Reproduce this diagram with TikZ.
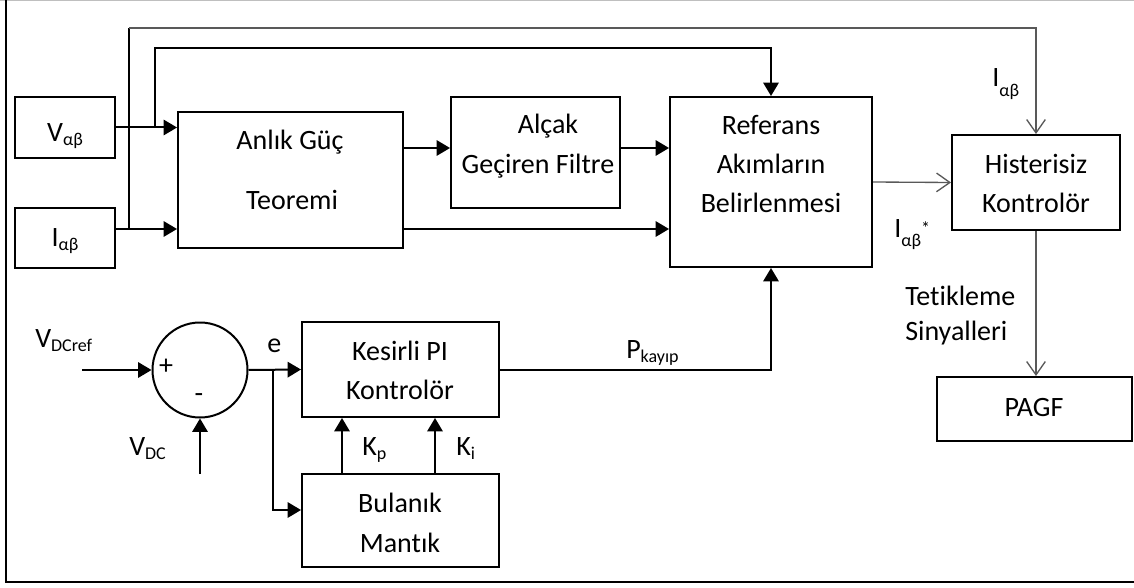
\documentclass[tikz,border=0pt]{standalone}
\usepackage{fontspec}
\setmainfont{Carlito}[Ligatures=NoCommon]
\usetikzlibrary{arrows.meta,fit,calc}

% lowered small index text (subscripts)
\newcommand{\lo}[1]{\raisebox{-3pt}{\fontsize{13.5pt}{14pt}\selectfont #1}}
\newcommand{\lolo}[1]{\raisebox{-7pt}{\fontsize{13.5pt}{14pt}\selectfont #1}}

\begin{document}
\begin{tikzpicture}[x=0.75pt,y=-0.75pt,
  box/.style={draw, line width=1.5pt, inner sep=0pt},
  txt/.style={anchor=base, inner sep=0pt, font=\fontsize{21pt}{29pt}\selectfont},
  lbl/.style={anchor=base west, inner sep=0pt, font=\fontsize{21pt}{29pt}\selectfont},
  wire/.style={line width=1.5pt},
  arr/.style={wire, -{Triangle[length=10pt,width=11.5pt]}},
  graywire/.style={draw=black!65, line width=1pt},
  oarr/.style={graywire, -{Straight Barb[length=10pt,width=14pt,line width=1pt]}}
]
\useasboundingbox (0,0) rectangle (1134,588);

% outer frame
\draw[black!25, line width=1pt] (0,0.7) -- (1134,0.7);
\draw[line width=2pt] (6,0) -- (6,582) -- (1134,582);

% blocks
\node[box, fit={(15,97)(115,158)}]   (V)    {};
\node[box, fit={(15,208)(115,268)}]  (I)    {};
\node[box, fit={(178,112)(403,248)}] (anl)  {};
\node[box, fit={(451,97)(620,208)}]  (alc)  {};
\node[box, fit={(670,97)(872,267)}]  (ref)  {};
\node[box, fit={(952,135)(1120,230)}] (hist) {};
\node[box, fit={(937,377)(1132,441)}] (pagf) {};
\node[box, fit={(302,322)(499,417)}] (kpi)  {};
\node[box, fit={(302,474)(499,567)}] (bul)  {};
\node[draw, circle, line width=1.5pt, inner sep=0pt, minimum size=71.25pt] (sum) at (200,370) {};

% block texts
\node[txt] (Vt)    at (65,142)  {V\lo{αβ}};
\node[txt] (It)    at (65,246)  {I\lo{αβ}};
\node[txt] (anl1)  at (290,150) {Anlık Güç};
\node[txt] (anl2)  at (292,209) {Teoremi};
\node[txt] (alc1)  at (548,134) {Alçak};
\node[txt] (alc2)  at (538,173) {Geçiren Filtre};
\node[txt] (ref1)  at (771,135) {Referans};
\node[txt] (ref2)  at (771,174) {Akımların};
\node[txt] (ref3)  at (771,212) {Belirlenmesi};
\node[txt] (hist1) at (1036,173) {Histerisiz};
\node[txt] (hist2) at (1036,212) {Kontrolör};
\node[txt] (pagf1) at (1034,416) {PAGF};
\node[txt] (kpi1)  at (400,360) {Kesirli PI};
\node[txt] (kpi2)  at (400,399) {Kontrolör};
\node[txt] (bul1)  at (400,512) {Bulanık};
\node[txt] (bul2)  at (400,552) {Mantık};

% junction and routing points
\coordinate (jV)  at (155,128);
\coordinate (jI)  at (129,229);
\coordinate (t1)  at (129,28);
\coordinate (t2)  at (771,48);
\coordinate (yf)  at (0,148);
\coordinate (vin) at (82,370);
\coordinate (vdc) at (200,474);
\coordinate (je)  at (273,370);
\coordinate (yb)  at (0,510);
\coordinate (xkp) at (342,0);
\coordinate (xki) at (435,0);

% upper signal paths
\draw[arr] (V.east) -- (V.east -| anl.west);
\draw[arr] (I.east |- jI) -- (anl.west |- jI);
\draw[arr] (jV) |- (t2) -- (ref.north);
\draw[wire] (jI) -- (t1);
\draw[oarr] (t1) -| (hist.north);
\draw[arr] (anl.east |- yf) -- (alc.west |- yf);
\draw[arr] (alc.east |- yf) -- (ref.west |- yf);
\draw[arr] (anl.east |- jI) -- (ref.west |- jI);
\draw[oarr] (ref.east) -- (hist.west);
\draw[oarr] (hist.south) -- (hist.south |- pagf.north);

% DC-link control loop
\draw[arr] (vin) -- (sum.west);
\draw[arr] (vdc) -- (sum.south);
\draw[arr] (sum.east) -- (kpi.west);
\draw[arr] (je) |- (bul.west |- yb);
\draw[arr] (bul.north -| xkp) -- (kpi.south -| xkp);
\draw[arr] (bul.north -| xki) -- (kpi.south -| xki);
\draw[arr] (kpi.east) -| (ref.south);

% signal labels
\node[lbl] (lVref) at (35,347)  {V\lo{DCref}};
\node[lbl] (lVdc)  at (129,455) {V\lo{DC}};
\node[lbl] (le)    at (267,352) {e};
\node[txt, anchor=center] (lplus)  at (166,367) {+};
\node[txt, anchor=center] (lminus) at (199,398) {-};
\node[lbl] (lkp)   at (362,455) {K\lo{p}};
\node[lbl] (lki)   at (456,455) {K\lo{i}};
\node[lbl] (lp)    at (626,358) {P\lo{kayıp}};
\node[lbl] (lI)    at (992,87)  {I\lolo{αβ}};
\node[lbl] (lIs)   at (894,237) {I\lolo{αβ}\raisebox{2pt}{\fontsize{13.5pt}{14pt}\selectfont *}};
\node[lbl] (lt1)   at (905,305) {Tetikleme};
\node[lbl] (lt2)   at (905,340) {Sinyalleri};
\end{tikzpicture}
\end{document}
